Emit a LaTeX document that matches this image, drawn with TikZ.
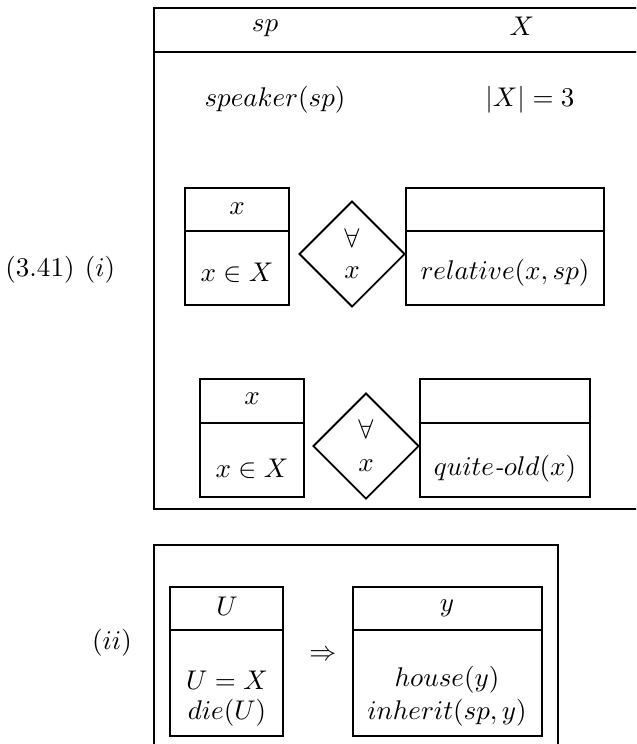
\documentclass[tikz,border=0pt]{standalone}
\usepackage{amsmath,amssymb}
\usepackage{tikz}
\usetikzlibrary{shapes.geometric}
\tikzset{
  drs/.style={draw, line width=1.1pt, line join=miter},
  quant/.style={diamond, draw, line width=0.7pt, inner sep=0pt,
    minimum size=39.2pt},
  lbl/.style={inner sep=0pt},
}
% a box with its universe line: corners and the y of the divider
\newcommand{\drsbox}[5]{%
  \draw[drs] (#1,#2) rectangle (#3,#4);
  \draw[drs] (#1,#5) -- (#3,#5);
}
\begin{document}
\begin{tikzpicture}[x=0.37pt, y=-0.37pt]
  \useasboundingbox (0,0) rectangle (636,744);
  \clip (0,0) rectangle (636,744);

  % (i) outer box
  \draw[drs] (700,8) -- (154,8) -- (154,509) -- (700,509);
  \draw[drs] (154,52) -- (700,52);
  \node[lbl] (ex) at (40,270) {(3.41)};
  \node[lbl] (one) at (100,270) {$(i)$};
  \node[lbl] (sp) at (265,28) {$sp$};
  \node[lbl] (bigX) at (522,26) {$X$};
  \node[lbl] (spk) at (275,100) {$speaker(sp)$};
  \node[lbl] (card) at (530,100) {$|X| = 3$};

  % first duplex
  \drsbox{185}{188}{289}{305}{231}
  \node[lbl] (ux1) at (237,209) {$x$};
  \node[lbl] (in1) at (237,273) {$x \in X$};
  \node[quant] (q1) at (352,254) {};
  \node[lbl] (all1) at (352,238) {$\forall$};
  \node[lbl] (qx1) at (352,273) {$x$};
  \drsbox{406}{188}{604}{305}{231}
  \node[lbl] (rel) at (505,273) {$relative(x,sp)$};

  % second duplex
  \drsbox{200}{379}{304}{497}{423}
  \node[lbl] (ux2) at (252,399) {$x$};
  \node[lbl] (in2) at (252,469) {$x \in X$};
  \node[quant] (q2) at (366,446) {};
  \node[lbl] (all2) at (366,429) {$\forall$};
  \node[lbl] (qx2) at (366,466) {$x$};
  \drsbox{420}{379}{590}{497}{423}
  \node[lbl] (old) at (505,469) {$quite\textit{-}old(x)$};

  % (ii) outer box
  \draw[drs] (154,800) -- (154,545) -- (558,545) -- (558,800);
  \node[lbl] (two) at (112,643) {$(ii)$};
  \drsbox{170}{587}{283}{736}{630}
  \node[lbl] (uU) at (227,606) {$U$};
  \node[lbl] (eq) at (227,680) {$U = X$};
  \node[lbl] (die) at (227,713) {$die(U)$};
  \node[lbl] (imp) at (323,656) {$\Rightarrow$};
  \drsbox{353}{587}{542}{736}{630}
  \node[lbl] (uy) at (447,608) {$y$};
  \node[lbl] (house) at (447,680) {$house(y)$};
  \node[lbl] (inh) at (447,713) {$inherit(sp,y)$};
\end{tikzpicture}
\end{document}
